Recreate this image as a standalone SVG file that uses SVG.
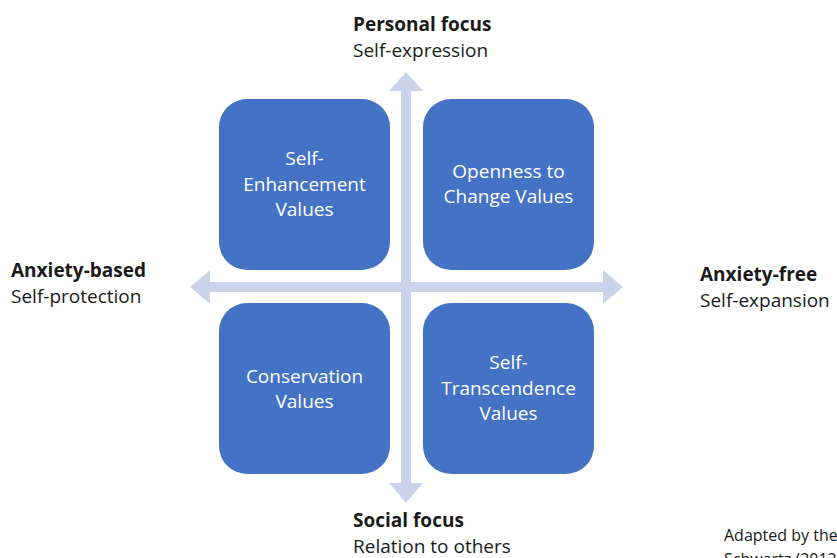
<svg xmlns="http://www.w3.org/2000/svg" width="837" height="558" viewBox="0 0 837 558">
  <style>
    .box { fill: #4472C4; }
    .axis { fill: #CBD3EA; }
    .lbl { font-family: "Open Sans", Lato, "Liberation Sans", sans-serif; font-size: 19px; fill: #1a1a1a; }
    .b { font-weight: bold; }
    .in { font-family: "Open Sans", Lato, "Liberation Sans", sans-serif; font-size: 19px; fill: #ffffff; text-anchor: middle; }
    .note { font-family: "Open Sans", Lato, "Liberation Sans", sans-serif; font-size: 16px; fill: #1a1a1a; }
  </style>
  <rect width="837" height="558" fill="#ffffff"/>

  <!-- crossed double-headed axes -->
  <g id="connectors">
    <path class="axis" d="M406,72 L423,91 L411,91 L411,483 L423,483 L406,503 L389,483 L401,483 L401,91 L389,91 Z"/>
    <path class="axis" d="M190,287 L210,270 L210,282 L603,282 L603,270 L623,287 L603,304 L603,292 L210,292 L210,304 Z"/>
  </g>

  <g id="self-enhancement">
    <rect class="box" x="219" y="99" width="171" height="171" rx="28"/>
    <text class="in" x="304.5" y="165">Self-</text>
    <text class="in" x="304.5" y="191">Enhancement</text>
    <text class="in" x="304.5" y="216">Values</text>
  </g>
  <g id="openness">
    <rect class="box" x="423" y="99" width="171" height="171" rx="28"/>
    <text class="in" x="508.5" y="178">Openness to</text>
    <text class="in" x="508.5" y="203">Change Values</text>
  </g>
  <g id="conservation">
    <rect class="box" x="219" y="303" width="171" height="171" rx="28"/>
    <text class="in" x="304.5" y="383">Conservation</text>
    <text class="in" x="304.5" y="408">Values</text>
  </g>
  <g id="self-transcendence">
    <rect class="box" x="423" y="303" width="171" height="171" rx="28"/>
    <text class="in" x="508.5" y="369">Self-</text>
    <text class="in" x="508.5" y="395">Transcendence</text>
    <text class="in" x="508.5" y="420">Values</text>
  </g>

  <g id="personal-focus">
    <text class="lbl b" x="353" y="31">Personal focus</text>
    <text class="lbl" x="353" y="57">Self-expression</text>
  </g>
  <g id="anxiety-based">
    <text class="lbl b" x="11" y="277">Anxiety-based</text>
    <text class="lbl" x="11" y="303">Self-protection</text>
  </g>
  <g id="anxiety-free">
    <text class="lbl b" x="700" y="281">Anxiety-free</text>
    <text class="lbl" x="700" y="307">Self-expansion</text>
  </g>
  <g id="social-focus">
    <text class="lbl b" x="353" y="527">Social focus</text>
    <text class="lbl" x="353" y="553">Relation to others</text>
  </g>
  <g id="source-note">
    <text class="note" x="724" y="541">Adapted by the</text>
    <text class="note" x="724" y="565">Schwartz (2012)</text>
  </g>
</svg>
